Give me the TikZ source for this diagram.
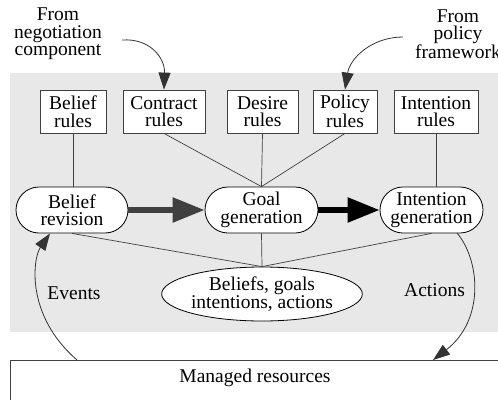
\documentclass[tikz,border=0pt]{standalone}
\usepackage{fontspec}
\setmainfont{Liberation Serif}
\usetikzlibrary{arrows.meta,shapes.geometric,shapes.misc}
\begin{document}
\begin{tikzpicture}[x=1pt,y=-1pt,
  every node/.style={font=\fontsize{19.5}{17.5}\selectfont, align=center, inner sep=0pt},
  rulebox/.style={draw=black!75, fill=white, line width=0.8pt, minimum height=43pt},
  procnode/.style={draw=black, fill=white, rounded rectangle, line width=0.8pt, minimum height=46pt},
  link/.style={draw=black!75, line width=0.7pt},
  feed/.style={draw=black!80, line width=0.8pt, -{Triangle[length=17pt,width=12pt]}, fill=none},
  bigarrow/.style={line width=5.5pt, -{Triangle[length=32pt,width=24pt]}},
]
\useasboundingbox (0,0) rectangle (498,399);
\clip (0,0) rectangle (498,399);
% background panel
\fill[gray!18] (10,73) rectangle (505,332);
% texts at the top
\node (neg) at (58,34) {From\\negotiation\\component};
\node (pol) at (458,34) {From\\policy\\framework};
% rule boxes
\node[rulebox, minimum width=66pt] (belr) at (73,111.5) {Belief\\rules};
\node[rulebox, minimum width=82pt] (conr) at (164,111.5) {Contract\\rules};
\node[rulebox, minimum width=71pt] (desr) at (262.5,111.5) {Desire\\rules};
\node[rulebox, minimum width=64pt] (polr) at (345,111.5) {Policy\\rules};
\node[rulebox, minimum width=84pt] (intr) at (436,111.5) {Intention\\rules};
% process nodes
\node[procnode, minimum width=112pt] (brev) at (72,210) {Belief\\revision};
\node[procnode, minimum width=113pt] (ggen) at (261.5,210) {Goal\\generation};
\node[procnode, minimum width=103pt] (igen) at (431.5,210) {Intention\\generation};
% ellipse
\node[draw=black, fill=white, ellipse, line width=0.8pt, minimum width=190pt, minimum height=54pt] (bel) at (262,294) {Beliefs, goals\\intentions, actions};
% managed resources
\node[draw=black!75, fill=white, line width=0.8pt, anchor=north west, minimum width=500pt, minimum height=50pt] (mr) at (10,360) {};
\node (mrt) at (255,378) {Managed resources};
% links
\draw[link] (belr.south) -- (brev.north -| belr.south);
\draw[link] (conr.south) -- (ggen.north);
\draw[link] (desr.south) -- (ggen.north);
\draw[link] (polr.south) -- (ggen.north);
\draw[link] (intr.south) -- (igen.north -| intr.south);
\draw[link] (brev.south) -- (bel.north);
\draw[link] (ggen.south) -- (bel.north);
\draw[link] (igen.south) -- (bel.north);
% thick arrows
\draw[bigarrow, black!75] (brev.east) -- (ggen.west);
\draw[bigarrow, black] (ggen.east) -- (igen.west);
% feed arrows
\coordinate (negstart) at (122,40);
\coordinate (polstart) at (403,37);
\draw[feed] (negstart) .. controls (150,38) and (165,58) .. (conr.north);
\draw[feed] (polstart) .. controls (372,37) and (350,58) .. (polr.north);
% events / actions
\coordinate (evstart) at (77,360);
\coordinate (evend) at (50,233.5);
\coordinate (acstart) at (457,233);
\coordinate (acend) at (433,360);
\draw[feed] (evstart) .. controls (25,315) and (33,258) .. (evend);
\draw[feed] (acstart) .. controls (480,260) and (485,320) .. (acend);
\node (ev) at (74,293) {Events};
\node (ac) at (434.5,290) {Actions};
\end{tikzpicture}
\end{document}
